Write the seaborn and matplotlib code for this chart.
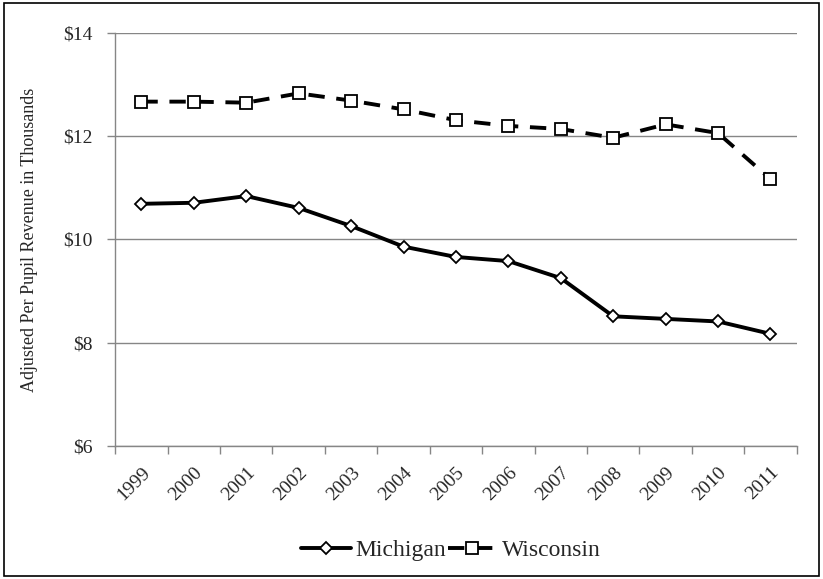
import matplotlib
matplotlib.use("Agg")
import matplotlib.pyplot as plt
import seaborn as sns
import pandas as pd
from matplotlib.patches import Rectangle

years = ["1999", "2000", "2001", "2002", "2003", "2004", "2005",
         "2006", "2007", "2008", "2009", "2010", "2011"]
michigan = [10.69, 10.71, 10.84, 10.61, 10.26, 9.86, 9.66, 9.58, 9.25, 8.51, 8.46, 8.41, 8.17]
wisconsin = [12.67, 12.67, 12.65, 12.83, 12.69, 12.52, 12.31, 12.20, 12.14, 11.97, 12.23, 12.06, 11.17]
y_ticks = [6, 8, 10, 12, 14]
y_labels = ["$6", "$8", "$10", "$12", "$14"]

sns.set_theme(style="white")
plt.rcParams['font.family'] = ['Liberation Serif', 'DejaVu Serif']

fig = plt.figure(figsize=(8.23, 5.79), dpi=100)
ax = fig.add_axes([0.140, 0.230, 0.828, 0.713])

pos = list(range(len(years)))
df_m = pd.DataFrame({"x": pos, "y": michigan})
df_w = pd.DataFrame({"x": pos, "y": wisconsin})

sns.lineplot(data=df_m, x="x", y="y", ax=ax, color="black", linewidth=2.8,
             marker="D", markersize=6.5, markerfacecolor="white",
             markeredgecolor="black", markeredgewidth=1.3, label="Michigan")
sns.lineplot(data=df_w, x="x", y="y", ax=ax, color="black", linewidth=2.8,
             linestyle=(0, (4.2, 3.0)), marker="s", markersize=9,
             markerfacecolor="white", markeredgecolor="black",
             markeredgewidth=1.3, label="Wisconsin")

ax.set_xlim(-0.5, len(years) - 0.5)
ax.set_ylim(6, 14)
ax.set_yticks(y_ticks)
ax.set_yticklabels(y_labels, fontsize=14)
ax.set_xticks(pos)
ax.set_xticklabels(years, rotation=45, ha="right", rotation_mode="anchor", fontsize=14)
ax.set_xticks([p - 0.5 for p in pos] + [len(years) - 0.5], minor=True)
ax.tick_params(axis="x", which="major", length=0, pad=13)
ax.tick_params(axis="x", which="minor", length=6, color="#868686", width=1, bottom=True)
ax.tick_params(axis="y", which="major", length=6, color="#868686", width=1, left=True, pad=10)
ax.yaxis.grid(True, color="#868686", linewidth=1)
ax.xaxis.grid(False)
ax.set_axisbelow(True)
for s in ["top", "right"]:
    ax.spines[s].set_visible(False)
for s in ["left", "bottom"]:
    ax.spines[s].set_color("#868686")
    ax.spines[s].set_linewidth(1)

ax.set_xlabel("")
ax.set_ylabel("Adjusted Per Pupil Revenue in Thousands", fontsize=13)
ax.yaxis.set_label_coords(-0.114, 0.5)

ax.legend(loc="center", bbox_to_anchor=(0.548, 0.05), ncol=2, frameon=False,
          fontsize=17, handlelength=2.1, columnspacing=0.05, handletextpad=0.2,
          bbox_transform=fig.transFigure)

fig.patches.append(Rectangle((0.005, 0.005), 0.99, 0.99, transform=fig.transFigure,
                             fill=False, edgecolor="black", linewidth=1.2))

fig.savefig("out.png", dpi=100, facecolor="white")
